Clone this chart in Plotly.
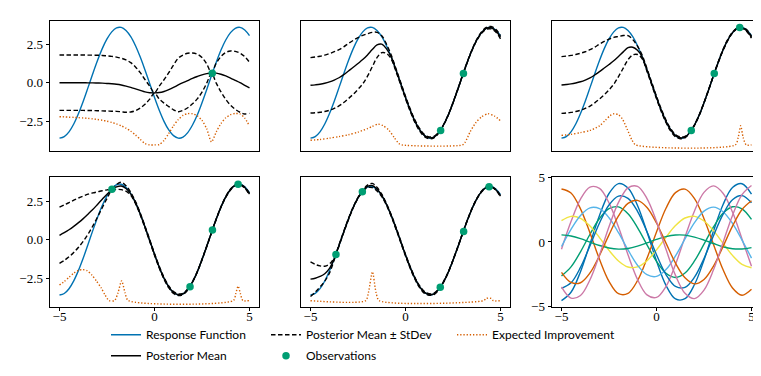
import plotly.graph_objects as go

# sampling grids for the curves
X_GRID = [round(-5 + 0.25 * i, 2) for i in range(41)]
X_SAMPLES = [round(-5 + 0.5 * i, 1) for i in range(21)]

RESPONSE = [-3.60, -3.50, -3.19, -2.68, -2.00, -1.20, -0.32, 0.58, 1.44, 2.21, 2.84,
            3.30, 3.56, 3.59, 3.39, 2.99, 2.40, 1.66, 0.82, -0.07, -0.96, -1.79, -2.51,
            -3.07, -3.44, -3.60, -3.53, -3.24, -2.75, -2.10, -1.30, -0.44, 0.46, 1.33,
            2.12, 2.77, 3.25, 3.53, 3.59, 3.42, 3.05]

# GP mean where it sits on the response (x >= -0.75)
MEAN_TAIL = [1.66, 0.82, -0.07, -0.96, -1.79, -2.51, -3.07, -3.44, -3.58, -3.53, -3.24,
             -2.75, -2.10, -1.30, -0.44, 0.46, 1.33, 2.12, 2.77, 3.25, 3.53, 3.57, 3.38, 2.95]

MEAN_1 = [0.00, 0.00, 0.00, 0.00, 0.00, 0.00, -0.01, -0.01, -0.02, -0.03, -0.05, -0.07,
          -0.10, -0.15, -0.22, -0.30, -0.40, -0.50, -0.60, -0.65, -0.66, -0.64, -0.57,
          -0.45, -0.31, -0.15, 0.00, 0.14, 0.28, 0.40, 0.51, 0.59, 0.63, 0.62, 0.55, 0.44,
          0.30, 0.15, 0.00, -0.17, -0.33]
STD_1 = [1.80, 1.80, 1.80, 1.80, 1.80, 1.80, 1.80, 1.80, 1.80, 1.80, 1.79, 1.78, 1.76,
         1.74, 1.70, 1.60, 1.42, 1.15, 0.80, 0.42, 0.02, 0.42, 0.76, 1.10, 1.45, 1.74,
         1.80, 1.77, 1.65, 1.45, 1.12, 0.62, 0.02, 0.65, 1.15, 1.52, 1.76, 1.88, 1.92,
         1.86, 1.66]

MEAN_2 = [-0.17, -0.14, -0.10, -0.04, 0.05, 0.17, 0.32, 0.52, 0.76, 1.00, 1.25, 1.50,
          1.80, 2.15, 2.45, 2.50, 2.20] + MEAN_TAIL
STD_2 = [1.80, 1.81, 1.82, 1.83, 1.84, 1.84, 1.83, 1.81, 1.79, 1.75, 1.68, 1.57, 1.38,
         1.12, 0.82, 0.55, 0.30, 0.13, 0.09, 0.08, 0.08, 0.08, 0.08, 0.08, 0.07, 0.06,
         0.05, 0.03, 0.02, 0.02, 0.02, 0.02, 0.02, 0.02, 0.03, 0.04, 0.05, 0.06, 0.08,
         0.09, 0.10]

MEAN_3 = [-0.15, -0.12, -0.08, -0.02, 0.06, 0.17, 0.31, 0.50, 0.72, 0.95, 1.18, 1.42,
          1.70, 2.00, 2.27, 2.30, 2.10] + MEAN_TAIL
STD_3 = [1.84, 1.85, 1.85, 1.85, 1.85, 1.84, 1.83, 1.81, 1.78, 1.73, 1.65, 1.52, 1.30,
         1.06, 0.78, 0.50, 0.27, 0.12, 0.09, 0.08, 0.08, 0.08, 0.08, 0.08, 0.07, 0.06,
         0.05, 0.03, 0.02, 0.02, 0.02, 0.02, 0.02, 0.03, 0.04, 0.04, 0.03, 0.02, 0.03,
         0.05, 0.06]

MEAN_4 = [0.28, 0.45, 0.64, 0.86, 1.10, 1.36, 1.65, 1.95, 2.28, 2.62, 2.95, 3.22, 3.42,
          3.48, 3.32, 2.97, 2.40] + MEAN_TAIL
STD_4 = [1.82, 1.80, 1.76, 1.70, 1.60, 1.47, 1.30, 1.08, 0.82, 0.55, 0.28, 0.03, 0.16,
         0.24, 0.18, 0.10, 0.07, 0.06, 0.06, 0.06, 0.06, 0.06, 0.06, 0.06, 0.06, 0.05,
         0.04, 0.03, 0.02, 0.02, 0.02, 0.02, 0.02, 0.02, 0.02, 0.03, 0.03, 0.02, 0.02,
         0.04, 0.06]

MEAN_5 = [-2.56, -2.50, -2.38, -2.20, -1.85, -1.20, -0.32, 0.58, 1.44, 2.21, 2.84, 3.30,
          3.60, 3.66, 3.42, 3.00, 2.40] + MEAN_TAIL
STD_5 = [1.15, 0.92, 0.70, 0.50, 0.30, 0.08, 0.04, 0.04, 0.04, 0.03, 0.03, 0.03, 0.08,
         0.14, 0.12, 0.08, 0.06, 0.06, 0.06, 0.06, 0.06, 0.06, 0.06, 0.06, 0.06, 0.05,
         0.05, 0.04, 0.03, 0.02, 0.02, 0.02, 0.02, 0.02, 0.02, 0.02, 0.03, 0.03, 0.02,
         0.02, 0.04]

# expected improvement (drawn in data units at the bottom of each panel)
EI_X_1 = X_GRID
EI_Y_1 = [-2.21, -2.22, -2.24, -2.25, -2.27, -2.29, -2.32, -2.35, -2.39, -2.44, -2.50,
          -2.58, -2.68, -2.80, -2.95, -3.15, -3.40, -3.68, -3.95, -4.04, -4.04, -4.02,
          -3.75, -3.30, -2.80, -2.40, -2.12, -2.01, -2.02, -2.15, -2.45, -3.00, -3.85,
          -3.20, -2.65, -2.28, -2.08, -2.00, -2.03, -2.30, -2.82]
EI_X_2 = [-5, -4.5, -4, -3.5, -3, -2.5, -2, -1.75, -1.45, -1.2, -0.9, -0.6, -0.35, -0.2,
          3.0, 3.15, 3.4, 3.7, 4.0, 4.35, 4.7, 5.0]
EI_Y_2 = [-3.74, -3.69, -3.60, -3.50, -3.38, -3.21, -2.98, -2.84, -2.69, -2.78, -3.05,
          -3.55, -3.95, -4.04, -4.04, -3.85, -3.20, -2.60, -2.22, -2.02, -2.18, -2.48]
EI_X_3 = [-5, -4.5, -4, -3.5, -3, -2.7, -2.45, -2.24, -2.0, -1.8, -1.55, -1.3, -1.1,
          4.15, 4.3, 4.43, 4.56, 4.72, 5.0]
EI_Y_3 = [-3.42, -3.36, -3.24, -3.10, -2.80, -2.45, -2.15, -2.02, -2.08, -2.35, -3.00,
          -3.70, -4.04, -4.04, -3.55, -2.80, -3.55, -4.04, -4.04]
EI_X_4 = [-5, -4.75, -4.5, -4.25, -4.0, -3.8, -3.55, -3.3, -3.05, -2.8, -2.6, -2.4, -2.1,
          -1.92, -1.73, -1.55, -1.38, 4.15, 4.28, 4.4, 4.52, 4.65, 5.0]
EI_Y_4 = [-2.95, -2.72, -2.45, -2.18, -2.00, -1.95, -2.02, -2.30, -2.70, -3.15, -3.60,
          -3.96, -3.96, -3.45, -2.68, -3.45, -3.96, -3.96, -3.50, -3.02, -3.50, -3.96, -3.96]
EI_X_5 = [-5, -2.1, -1.95, -1.74, -1.55, -1.38, 4.1, 4.25, 4.35, 4.5, 4.62, 5.0]
EI_Y_5 = [-3.99, -3.99, -3.45, -2.07, -3.45, -3.99, -3.99, -3.84, -3.82, -3.84, -3.99, -3.99]

OBS_X = [[3.04], [1.85, 3.05], [1.83, 3.04, 4.38], [-2.24, 1.87, 3.05, 4.4],
         [-3.66, -2.27, 1.83, 3.06, 4.4]]
OBS_Y = [[0.62], [-3.10, 0.60], [-3.10, 0.60, 3.58], [3.27, -3.06, 0.62, 3.60],
         [-0.92, 3.25, -3.10, 0.60, 3.58]]

# prior samples shown in the last panel, on X_SAMPLES
SAMPLES = [
    ("#0072B2", [-4.55, -3.90, -2.30, -0.13, 2.06, 3.76, 4.53, 4.19, 2.83, 0.77, -1.47,
                 -3.36, -4.42, -4.40, -3.30, -1.40, 0.85, 2.89, 4.22, 4.52, 3.71]),
    ("#009E73", [-2.63, -1.93, -0.76, 0.60, 1.82, 2.58, 2.72, 2.19, 1.12, -0.22, -1.50,
                 -2.42, -2.75, -2.40, -1.47, -0.17, 1.17, 2.22, 2.73, 2.57, 1.75]),
    ("#D55E00", [4.11, 3.80, 2.57, 0.70, -1.34, -3.05, -4.01, -3.99, -3.00, -1.27, 0.77,
                 2.62, 3.83, 4.10, 3.37, 1.81, -0.19, -2.14, -3.57, -4.13, -3.67]),
    ("#CC79A7", [-0.56, 1.58, 3.33, 4.26, 4.16, 3.03, 1.16, -0.99, -2.90, -4.10, -4.30,
                 -3.44, -1.74, 0.38, 2.41, 3.85, 4.35, 3.78, 2.32, 0.23, -1.88]),
    ("#F0E442", [1.65, 1.99, 1.84, 1.24, 0.34, -0.65, -1.47, -1.94, -1.93, -1.45, -0.61,
                 0.37, 1.27, 1.86, 1.99, 1.63, 0.88, -0.09, -1.04, -1.73, -2.00]),
    ("#56B4E9", [-0.35, 0.98, 2.06, 2.65, 2.58, 1.88, 0.72, -0.61, -1.80, -2.54, -2.67,
                 -2.14, -1.08, 0.24, 1.50, 2.39, 2.70, 2.35, 1.44, 0.15, -1.25]),
    ("#0072B2", [-3.60, -3.17, -1.97, -0.29, 1.47, 2.87, 3.56, 3.38, 2.38, 0.79, -0.99,
                 -2.53, -3.45, -3.52, -2.73, -1.28, 0.49, 2.14, 3.27, 3.60, 3.04]),
    ("#009E73", [0.55, 0.46, 0.26, -0.01, -0.27, -0.47, -0.55, -0.50, -0.32, -0.07, 0.20,
                 0.42, 0.54, 0.53, 0.38, 0.15, -0.12, -0.37, -0.52, -0.54, -0.44]),
    ("#D55E00", [-2.36, -3.14, -3.16, -2.40, -1.05, 0.55, 2.02, 2.99, 3.23, 2.68, 1.47,
                 -0.09, -1.64, -2.78, -3.25, -2.91, -1.87, -0.36, 1.23, 2.52, 3.20]),
    ("#CC79A7", [-3.48, -4.35, -4.15, -2.93, -1.00, 1.18, 3.07, 4.20, 4.31, 3.37, 1.59,
                 -0.57, -2.59, -3.98, -4.39, -3.73, -2.16, -0.05, 2.06, 3.67, 4.38]),
]

X_TICKS = [-5, 0, 5]
X_TICK_TEXT = ["\u22125", "0", "5"]
Y_TICKS = [-2.5, 0.0, 2.5]
Y_TICK_TEXT = ["\u22122.5", "0.0", "2.5"]
Y6_TICKS = [-5, 0, 5]
Y6_TICK_TEXT = ["\u22125", "0", "5"]

BLUE = "#0072B2"
GREEN = "#009E73"
ORANGE = "#D55E00"
W, H = 761, 376
SERIF = "Liberation Serif, Times New Roman, serif"

panels = [
    (MEAN_1, STD_1, EI_X_1, EI_Y_1),
    (MEAN_2, STD_2, EI_X_2, EI_Y_2),
    (MEAN_3, STD_3, EI_X_3, EI_Y_3),
    (MEAN_4, STD_4, EI_X_4, EI_Y_4),
    (MEAN_5, STD_5, EI_X_5, EI_Y_5),
]

fig = go.Figure()

for i, (mean, std, ei_x, ei_y) in enumerate(panels):
    n = i + 1
    xa = "x" if n == 1 else f"x{n}"
    ya = "y" if n == 1 else f"y{n}"
    first = n == 1
    upper = [m + s for m, s in zip(mean, std)]
    lower = [m - s for m, s in zip(mean, std)]
    fig.add_trace(go.Scatter(x=X_GRID, y=RESPONSE, mode="lines", name="Response Function",
                             line=dict(color=BLUE, width=1.4, shape="spline"),
                             xaxis=xa, yaxis=ya, showlegend=first, legend="legend",
                             legendgroup="resp", legendrank=1))
    fig.add_trace(go.Scatter(x=ei_x, y=ei_y, mode="lines", name="Expected Improvement",
                             line=dict(color=ORANGE, width=1.4, dash="1.3px,1.9px",
                                       shape="spline", smoothing=0.7),
                             xaxis=xa, yaxis=ya, showlegend=first, legend="legend3",
                             legendgroup="ei"))
    fig.add_trace(go.Scatter(x=X_GRID, y=upper, mode="lines", name="Posterior Mean \u00b1 StDev",
                             line=dict(color="black", width=1.4, dash="4.5px,2.5px", shape="spline"),
                             xaxis=xa, yaxis=ya, showlegend=first, legend="legend2",
                             legendgroup="band", legendrank=1))
    fig.add_trace(go.Scatter(x=X_GRID, y=lower, mode="lines", name="Posterior Mean \u00b1 StDev",
                             line=dict(color="black", width=1.4, dash="4.5px,2.5px", shape="spline"),
                             xaxis=xa, yaxis=ya, showlegend=False, legendgroup="band"))
    fig.add_trace(go.Scatter(x=X_GRID, y=mean, mode="lines", name="Posterior Mean",
                             line=dict(color="black", width=1.4, shape="spline"),
                             xaxis=xa, yaxis=ya, showlegend=first, legend="legend",
                             legendgroup="mean", legendrank=2))
    fig.add_trace(go.Scatter(x=OBS_X[i], y=OBS_Y[i], mode="markers", name="Observations",
                             marker=dict(color=GREEN, size=7.5),
                             xaxis=xa, yaxis=ya, showlegend=first, legend="legend2",
                             legendgroup="obs", legendrank=2))

for color, vals in SAMPLES:
    fig.add_trace(go.Scatter(x=X_SAMPLES, y=vals, mode="lines",
                             line=dict(color=color, width=1.4, shape="spline"),
                             xaxis="x6", yaxis="y6", showlegend=False))

col_dom = [[42 / W, 251 / W], [293 / W, 502 / W], [544 / W, 753 / W]]
row_dom = [[1 - 141 / H, 1 - 6 / H], [1 - 303 / H, 1 - 168 / H]]
y_ranges = [[-4.42, 4.02], [-4.42, 4.02], [-4.42, 4.02], [-4.36, 4.08], [-4.39, 4.24],
            [-5.02, 5.06]]

tick_font = dict(family=SERIF, size=13, color="black")
base = dict(showgrid=False, zeroline=False, showline=True, mirror=True, linecolor="black",
            linewidth=0.9, ticklen=3.5, tickwidth=0.9, tickcolor="black", tickfont=tick_font)

layout = {}
for n in range(1, 7):
    row, col = (n - 1) // 3, (n - 1) % 3
    xkey = "xaxis" if n == 1 else f"xaxis{n}"
    ykey = "yaxis" if n == 1 else f"yaxis{n}"
    xa = dict(base, domain=col_dom[col], range=[-5.5, 5.5],
              anchor="y" if n == 1 else f"y{n}")
    if row == 1:
        xa.update(ticks="outside", tickvals=X_TICKS, ticktext=X_TICK_TEXT, showticklabels=True,
                  ticklabelstandoff=-6)
    else:
        xa.update(ticks="", showticklabels=False)
    ya = dict(base, domain=row_dom[row], range=y_ranges[n - 1],
              anchor="x" if n == 1 else f"x{n}")
    if col == 0:
        ya.update(ticks="outside", tickvals=Y_TICKS, ticktext=Y_TICK_TEXT, showticklabels=True)
    elif n == 6:
        ya.update(ticks="outside", tickvals=Y6_TICKS, ticktext=Y6_TICK_TEXT, showticklabels=True)
    else:
        ya.update(ticks="", showticklabels=False)
    layout[xkey] = xa
    layout[ykey] = ya

legend_font = dict(family="Lato", size=12, color="black")
leg = dict(orientation="v", xanchor="left", yanchor="top", bgcolor="rgba(0,0,0,0)",
           font=legend_font, tracegroupgap=2)
layout["legend"] = dict(leg, x=98 / W, y=1 - 317 / H)
layout["legend2"] = dict(leg, x=258 / W, y=1 - 317 / H)
layout["legend3"] = dict(leg, x=444 / W, y=1 - 317 / H)

fig.update_layout(width=W, height=H, margin=dict(l=0, r=0, t=0, b=0),
                  font=dict(family=SERIF, color="black"),
                  paper_bgcolor="white", plot_bgcolor="white", **layout)

fig.write_html("out.html")
